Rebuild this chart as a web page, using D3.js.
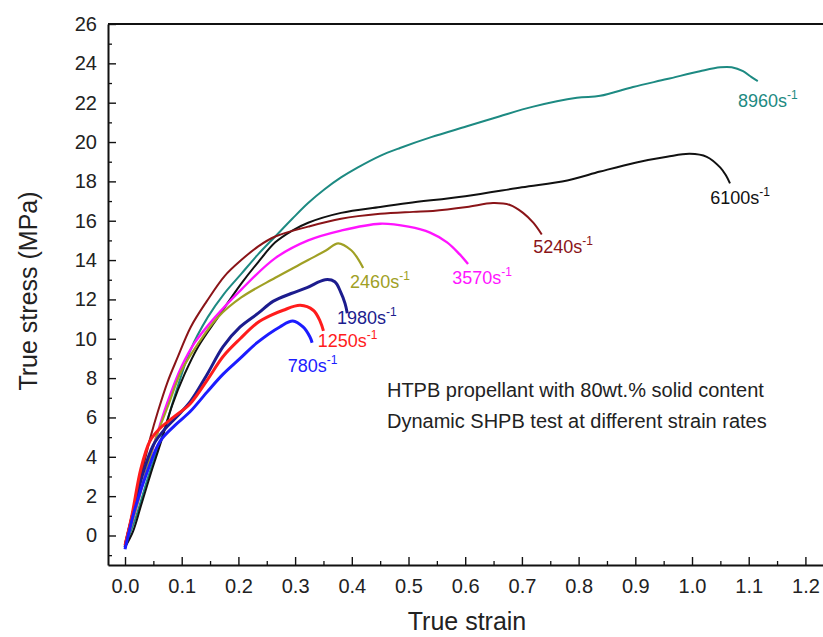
<!DOCTYPE html>
<html>
<head>
<meta charset="utf-8">
<script src="https://cdn.jsdelivr.net/npm/d3@7"></script>
<style>
  body { margin: 0; background: #fff; }
  svg { display: block; font-family: "Liberation Sans", Arial, sans-serif; }
</style>
</head>
<body>
<div id="chart"></div>
<script>
// --- data (true strain, true stress MPa) ---
const rate8960 = [[0,-0.6],[0.01,0.2],[0.02,1.0],[0.04,2.9],[0.06,4.6],[0.074,5.8],[0.09,7.3],[0.115,9.4],[0.146,11.1],[0.175,12.3],[0.205,13.3],[0.235,14.3],[0.265,15.2],[0.295,16.1],[0.323,16.9],[0.352,17.6],[0.381,18.2],[0.41,18.7],[0.45,19.3],[0.485,19.7],[0.54,20.25],[0.603,20.8],[0.66,21.3],[0.72,21.8],[0.797,22.25],[0.838,22.35],[0.896,22.8],[0.956,23.2],[1.014,23.6],[1.05,23.8],[1.07,23.8],[1.09,23.6],[1.105,23.3],[1.116,23.1]];
const rate6100 = [[0,-0.6],[0.014,0.2],[0.028,1.5],[0.046,3.2],[0.064,4.8],[0.083,6.6],[0.105,8.2],[0.129,9.6],[0.164,11.1],[0.205,12.8],[0.235,13.9],[0.265,14.9],[0.295,15.5],[0.323,15.9],[0.381,16.4],[0.45,16.7],[0.5,16.9],[0.6,17.25],[0.7,17.7],[0.78,18.05],[0.838,18.5],[0.9,18.95],[0.956,19.25],[0.996,19.4],[1.026,19.25],[1.05,18.7],[1.06,18.3],[1.067,17.9]];
const rate5240 = [[0,-0.4],[0.012,1.0],[0.028,3.0],[0.045,5.0],[0.058,6.3],[0.075,7.8],[0.092,9.0],[0.116,10.6],[0.144,11.9],[0.176,13.2],[0.205,14.0],[0.235,14.7],[0.265,15.2],[0.323,15.7],[0.381,16.1],[0.45,16.35],[0.508,16.45],[0.543,16.5],[0.603,16.7],[0.649,16.9],[0.679,16.8],[0.702,16.4],[0.72,15.9],[0.735,15.3]];
const rate3570 = [[0,-0.5],[0.015,0.9],[0.035,3.0],[0.055,5.0],[0.074,6.7],[0.1,8.6],[0.123,9.8],[0.159,11.1],[0.205,12.5],[0.265,14.1],[0.323,15.0],[0.381,15.5],[0.45,15.85],[0.5,15.7],[0.538,15.4],[0.568,14.9],[0.59,14.3],[0.605,13.8]];
const rate2460 = [[0,-0.5],[0.015,0.9],[0.035,3.0],[0.055,5.0],[0.076,6.6],[0.1,8.4],[0.13,9.8],[0.164,11.1],[0.205,12.1],[0.265,13.1],[0.323,14.0],[0.355,14.5],[0.376,14.85],[0.399,14.5],[0.41,14.1],[0.42,13.6]];
const rate1980 = [[0,-0.6],[0.012,0.9],[0.03,3.0],[0.05,4.6],[0.07,5.4],[0.09,6.0],[0.115,6.8],[0.145,8.2],[0.173,9.6],[0.203,10.6],[0.235,11.3],[0.261,11.9],[0.293,12.3],[0.321,12.6],[0.353,13.0],[0.37,12.9],[0.38,12.4],[0.388,11.8],[0.392,11.3]];
const rate1250 = [[0,-0.5],[0.012,1.0],[0.028,3.4],[0.044,4.8],[0.06,5.4],[0.085,6.0],[0.115,6.7],[0.145,7.9],[0.173,9.1],[0.203,10.0],[0.233,10.8],[0.258,11.2],[0.279,11.45],[0.309,11.7],[0.332,11.45],[0.344,10.9],[0.35,10.4]];
const rate780 = [[0,-0.7],[0.018,1.4],[0.04,3.3],[0.062,4.8],[0.088,5.6],[0.115,6.3],[0.145,7.3],[0.173,8.2],[0.203,9.0],[0.233,9.8],[0.273,10.6],[0.296,10.9],[0.314,10.6],[0.326,10.1],[0.33,9.8]];

const seriesNames = ["8960", "6100", "5240", "3570", "2460", "1980", "1250", "780"];
const seriesValues = [rate8960, rate6100, rate5240, rate3570, rate2460, rate1980, rate1250, rate780];
// where each rate label sits, in data units (strain, stress)
const labelAnchors = [[1.081, 21.8], [1.032, 16.85], [0.72, 14.35], [0.577, 12.77], [0.397, 12.6], [0.374, 10.75], [0.34, 9.6], [0.287, 8.3]];

const xTicks = [0, 0.1, 0.2, 0.3, 0.4, 0.5, 0.6, 0.7, 0.8, 0.9, 1.0, 1.1, 1.2];
const yTicks = [0, 2, 4, 6, 8, 10, 12, 14, 16, 18, 20, 22, 24, 26];
const noteLines = ["HTPB propellant with 80wt.% solid content", "Dynamic SHPB test at different strain rates"];

const colors = ["#1d8a82", "#111111", "#8a1418", "#ff14ff", "#a0a024", "#1c1c8e", "#ff1c1c", "#1c1cff"];
const widths = [2, 2, 2, 2.4, 2.2, 3, 3, 3];

const width = 823, height = 637;
const marginLeft = 108, marginTop = 24, axisBottomY = 565;

const svg = d3.select("#chart").append("svg")
    .attr("width", width)
    .attr("height", height);

const x = d3.scaleLinear().domain([-0.03, 1.25]).range([marginLeft, marginLeft + 1.28 * 567]);
const y = d3.scaleLinear().domain([-1.5, 26]).range([axisBottomY, marginTop]);

// --- minor ticks ---
const xMinor = d3.range(0.05, 1.26, 0.1);
const yMinor = d3.range(-1, 26, 2);

svg.append("g")
    .attr("transform", `translate(0,${axisBottomY})`)
    .call(d3.axisBottom(x).tickValues(xMinor).tickSize(-4).tickFormat(""))
    .call(g => g.select(".domain").remove())
    .selectAll("line").attr("stroke", "#111").attr("stroke-width", 1.3);

svg.append("g")
    .attr("transform", `translate(${marginLeft},0)`)
    .call(d3.axisLeft(y).tickValues(yMinor).tickSize(-4).tickFormat(""))
    .call(g => g.select(".domain").remove())
    .selectAll("line").attr("stroke", "#111").attr("stroke-width", 1.3);

// --- major axes ---
const xAxis = svg.append("g")
    .attr("transform", `translate(0,${axisBottomY})`)
    .call(d3.axisBottom(x).tickValues(xTicks).tickSizeInner(-8).tickSizeOuter(0).tickPadding(14).tickFormat(d3.format(".1f")));

const yAxis = svg.append("g")
    .attr("transform", `translate(${marginLeft},0)`)
    .call(d3.axisLeft(y).tickValues(yTicks).tickSizeInner(-8).tickSizeOuter(0).tickPadding(11).tickFormat(d3.format("d")));

[xAxis, yAxis].forEach(a => {
    a.select(".domain").attr("stroke", "#111").attr("stroke-width", 2);
    a.selectAll(".tick line").attr("stroke", "#111").attr("stroke-width", 1.4);
    a.selectAll(".tick text")
        .attr("font-family", "Liberation Sans, Arial, sans-serif")
        .attr("font-size", 20)
        .attr("fill", "#222");
});

// top frame
svg.append("line")
    .attr("x1", marginLeft).attr("x2", x(1.25))
    .attr("y1", marginTop).attr("y2", marginTop)
    .attr("stroke", "#111").attr("stroke-width", 2);

// --- curves ---
const line = d3.line()
    .x(d => x(d[0]))
    .y(d => y(d[1]))
    .curve(d3.curveCatmullRom.alpha(0.5));

svg.append("g")
    .selectAll("path")
    .data(seriesValues)
    .join("path")
    .attr("d", line)
    .attr("fill", "none")
    .attr("stroke", (d, i) => colors[i])
    .attr("stroke-width", (d, i) => widths[i])
    .attr("stroke-linejoin", "round");

// --- rate labels ---
const labels = svg.append("g")
    .selectAll("text")
    .data(seriesNames)
    .join("text")
    .attr("x", (d, i) => x(labelAnchors[i][0]))
    .attr("y", (d, i) => y(labelAnchors[i][1]))
    .attr("font-size", 18)
    .attr("fill", (d, i) => colors[i]);

labels.append("tspan").text(d => d + "s");
labels.append("tspan")
    .attr("font-size", 12)
    .attr("dy", -8)
    .text("-1");

// --- note ---
svg.append("g")
    .selectAll("text")
    .data(noteLines)
    .join("text")
    .attr("x", x(0.462))
    .attr("y", (d, i) => y(7.05) + i * 31)
    .attr("font-size", 20)
    .attr("fill", "#222")
    .text(d => d);

// --- axis titles ---
svg.append("text")
    .attr("x", 467)
    .attr("y", 630)
    .attr("text-anchor", "middle")
    .attr("font-size", 25)
    .attr("fill", "#222")
    .text("True strain");

svg.append("text")
    .attr("transform", "translate(37,291) rotate(-90)")
    .attr("text-anchor", "middle")
    .attr("font-size", 25)
    .attr("fill", "#222")
    .text("True stress (MPa)");
</script>
</body>
</html>
